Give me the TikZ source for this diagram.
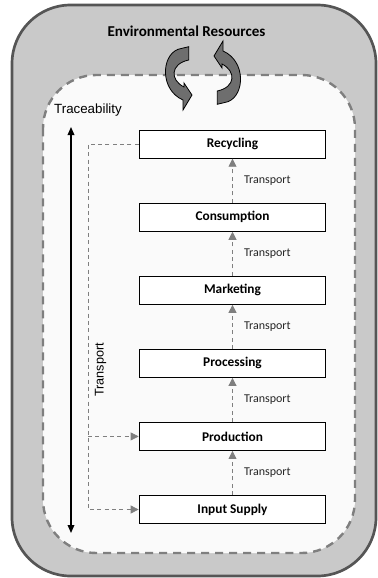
\documentclass[tikz,border=0pt]{standalone}
\usepackage{fontspec}
\setmainfont{Carlito}
\newfontfamily\arialfont{Liberation Sans}
\usepackage{xcolor}
\usepackage{tikz}
\usetikzlibrary{arrows.meta}
\usetikzlibrary{positioning}

\definecolor{outergray}{HTML}{C9C9C9}
\definecolor{rimgray}{HTML}{555555}
\definecolor{dashgray}{HTML}{7F7F7F}
\definecolor{innerwhite}{HTML}{FAFAFA}
\definecolor{cyclegray}{HTML}{6E6E6E}

\begin{document}
\begin{tikzpicture}[x=0.75pt, y=-0.75pt, node distance=33pt,
    stage/.style={draw=black, line width=0.8pt, fill=white, minimum width=140pt,
      minimum height=21pt, font=\fontsize{10}{12}\selectfont\bfseries},
    flow/.style={dashgray, line width=0.6pt, dash pattern=on 3pt off 2.5pt,
      -{Triangle[length=6pt,width=6pt]}},
    tlabel/.style={right=5pt, font=\fontsize{9}{11}\selectfont, text=black!85},
    cycle arrow/.style={fill=cyclegray, draw=black, line width=0.6pt}]
          \useasboundingbox (0,0) rectangle (378,578);
          % background frames
          \draw[fill=outergray, draw=rimgray, line width=2pt, rounded corners=44pt] (12,5) rectangle (376,576);
          \draw[fill=innerwhite, draw=dashgray, line width=1.8pt, dash pattern=on 6pt off 4.5pt,
            rounded corners=40pt] (43,75) rectangle (355,553);
          \node[font=\fontsize{11.3}{13}\selectfont\bfseries] (env) at (186.5,31) {Environmental Resources};
          % the two turning arrows
          \draw[cycle arrow] (188.7,46.7) -- (178,49.3) .. controls (161,56) and (160,90) .. (183,100)
            -- (183,110) -- (192,95) -- (184,83) -- (184,87)
            .. controls (170,80) and (170,64) .. (188.7,60) -- cycle;
          \draw[cycle arrow, rotate around={180:(203,75.5)}] (188.7,46.7) -- (178,49.3)
            .. controls (161,56) and (160,90) .. (183,100)
            -- (183,110) -- (192,95) -- (184,83) -- (184,87)
            .. controls (170,80) and (170,64) .. (188.7,60) -- cycle;
          % chain of stages
          \node[stage] (inp) at (232.5,509.5) {Input Supply};
          \node[stage] (prod) [above=of inp] {Production};
          \node[stage] (proc) [above=of prod] {Processing};
          \node[stage] (mark) [above=of proc] {Marketing};
          \node[stage] (cons) [above=of mark] {Consumption};
          \node[stage] (rec) [above=of cons] {Recycling};
          \draw[flow] (inp.north) -- node[tlabel] {Transport} (prod.south);
          \draw[flow] (prod.north) -- node[tlabel] {Transport} (proc.south);
          \draw[flow] (proc.north) -- node[tlabel] {Transport} (mark.south);
          \draw[flow] (mark.north) -- node[tlabel] {Transport} (cons.south);
          \draw[flow] (cons.north) -- node[tlabel] {Transport} (rec.south);
          % return path on the left
          \coordinate (back) at (88,0);
          \draw[flow] (rec.west) -- (rec.west -| back) -- (inp.west -| back) -- (inp.west);
          \draw[flow] (prod.west -| back) -- (prod.west);
          \node[font=\arialfont\fontsize{9.5}{11}\selectfont, rotate=90] (tvert) at (100.5,370) {Transport};
          % traceability
          \node[font=\arialfont\fontsize{10}{12}\selectfont] (trace) at (88,110) {Traceability};
          \coordinate (ttop) at (71,127);
          \coordinate (tbot) at (71,533);
          \draw[{Triangle[length=6pt,width=5pt]}-{Triangle[length=6pt,width=5pt]}, line width=0.9pt] (ttop) -- (tbot);
        \end{tikzpicture}
\end{document}
